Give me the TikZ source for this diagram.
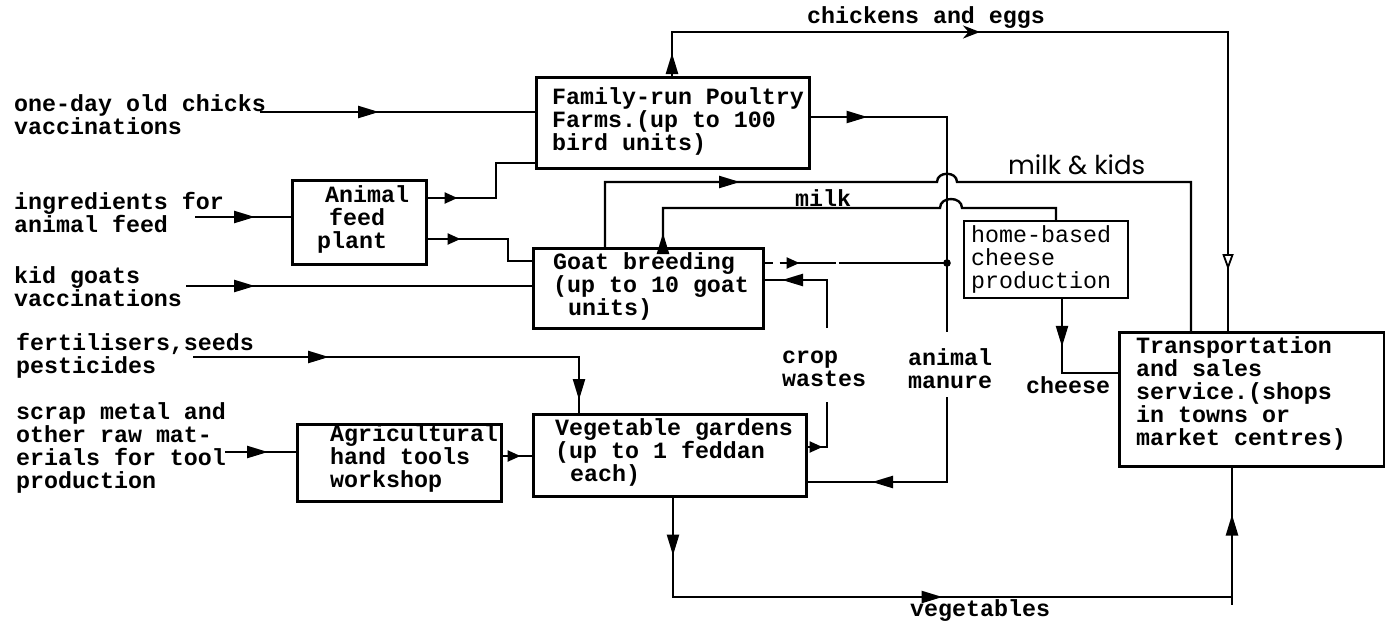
\documentclass[tikz,border=0pt]{standalone}
\usepackage{fontspec}
\usetikzlibrary{arrows.meta,decorations.markings}
\newfontfamily\tw{Liberation Mono}
\newfontfamily\hand{Poppins}
\begin{document}
\begin{tikzpicture}[x=1pt,y=-1pt,
  box/.style={draw,line width=2.5pt,inner sep=0pt,anchor=north west},
  wire/.style={line width=2.4pt},
  txt/.style={font=\tw\bfseries\fontsize{23.3}{23}\selectfont,align=left,inner sep=0pt,anchor=west},
  ltxt/.style={font=\tw\fontsize{23.3}{23}\selectfont,align=left,inner sep=0pt,anchor=west},
  ah/.style={postaction={decorate,decoration={markings,mark=at position #1 with {\arrow{Triangle[length=21pt,width=12pt]}}}}},
  ahs/.style={postaction={decorate,decoration={markings,mark=at position #1 with {\arrow{Triangle[length=13pt,width=11pt]}}}}},
  ahb/.style={postaction={decorate,decoration={markings,mark=at position #1 with {\arrow{Stealth[length=17pt,width=13pt]}}}}},
  aho/.style={postaction={decorate,decoration={markings,mark=at position #1 with {\arrow{Triangle[open,fill=white,line width=1.8pt,length=16pt,width=11pt]}}}}},
]
\fill[white] (0,0) rectangle (1385,625);
\useasboundingbox (0,0) rectangle (1385,625);

% boxes
\node[box,minimum width=134pt,minimum height=84pt] (feed) at (291,179) {};
\node[box,minimum width=273pt,minimum height=91pt] (poul) at (535,76) {};
\node[box,minimum width=230pt,minimum height=80pt] (goat) at (532,247) {};
\node[box,minimum width=204pt,minimum height=77pt] (agri) at (296,423) {};
\node[box,minimum width=273pt,minimum height=82pt] (veg) at (532,413) {};
\node[box,minimum width=164pt,minimum height=77pt,line width=1.8pt] (chz) at (963,220) {};
\node[box,minimum width=265pt,minimum height=134pt] (trans) at (1118,331) {};

% box texts
\node[txt] (feedt) at (317,219) {\hspace{8pt}Animal\\\hspace{12pt}feed\\plant};
\node[txt] (poult) at (552,121) {Family-run Poultry\\Farms.(up to 100\\bird units)};
\node[txt] (goatt) at (553,286) {Goat breeding\\(up to 10 goat\\\hspace{15pt}units)};
\node[txt] (agrit) at (330,458) {Agricultural\\hand tools\\workshop};
\node[txt] (vegt) at (555,452) {Vegetable gardens\\(up to 1 feddan\\\hspace{15pt}each)};
\node[ltxt] (chzt) at (971,259) {home-based\\cheese\\production};
\node[txt] (transt) at (1136,393) {Transportation\\and sales\\service.(shops\\in towns or\\market centres)};

% left labels
\node[txt] (l1) at (14,115) {one-day old chicks\\vaccinations};
\node[txt] (l2) at (14,212) {ingredients for\\animal feed};
\node[txt] (l3) at (14,287) {kid goats\\vaccinations};
\node[txt] (l4) at (16,356) {fertilisers,seeds\\pesticides};
\node[txt] (l5) at (16,448) {scrap metal and\\other raw mat-\\erials for tool\\production};

% other labels
\node[txt] (chk) at (807,18) {chickens and eggs};
\node[txt] (milkl) at (795,198) {milk};
\node[font=\hand\fontsize{26}{26}\selectfont,inner sep=0pt,anchor=west] (mk) at (1008,165) {milk \& kids};
\node[txt] (crop) at (782,369) {crop\\wastes};
\node[txt] (man) at (908,369) {animal\\manure};
\node[txt] (chs) at (1026,385) {cheese};
\node[txt] (vegl) at (910,611) {vegetables};

% inputs
\coordinate (s1) at (260,112);
\draw[wire,ah=119pt] (s1) -- (s1 -| poul.west);
\coordinate (s2) at (195,217);
\draw[wire,ah=60pt] (s2) -- (s2 -| feed.west);
\coordinate (s3) at (186,286);
\draw[wire,ah=69pt] (s3) -- (s3 -| goat.west);
\coordinate (s4) at (193,357);
\draw[wire,ah=136pt,ah=429pt] (s4) -- (579,357) -- (579,0 |- veg.north);
\coordinate (s5) at (225,452);
\draw[wire,ah=43pt] (s5) -- (s5 -| agri.west);

\draw[wire,ahs=18pt] (agri.east |- 0,456) -- (veg.west |- 0,456);
\draw[wire,ahs=30pt] (feed.east |- 0,198) -- (496,198) -- (496,163) -- (poul.west |- 0,163);
\draw[wire,ahs=33pt] (feed.east |- 0,239) -- (508,239) -- (508,261) -- (goat.west |- 0,261);

% manure
\coordinate (m1) at (947,332);
\coordinate (m2) at (947,397);
\coordinate (j1) at (947,263);
\draw[wire,ah=57pt] (poul.east |- 0,117) -- (947,117) -- (m1);
\draw[wire,ah=160pt] (m2) -- (947,482) -- (veg.east |- 0,482);
\fill (j1) circle[radius=3.8pt];
\draw[wire,dash pattern=on 8pt off 7pt on 56pt off 3pt on 120pt,ahs=35pt] (goat.east |- 0,263) -- (j1);

% crop wastes
\coordinate (c1) at (827,402);
\coordinate (c2) at (827,328);
\draw[wire,ahs=15pt] (veg.east |- 0,447) -- (827,447) -- (c1);
\draw[wire,ah=93pt] (c2) -- (827,280) -- (goat.east |- 0,280);

% milk & kids, milk
\draw[wire,ah=200pt] (goat.north -| 605,0) -- (605,182) -- (937,182) .. controls (937,171) and (957,171) .. (957,182) -- (1191,182) -- (trans.north -| 1191,0);
\draw[wire,ah=14pt] (goat.north -| 663,0) -- (663,208) -- (940,208) .. controls (940,196) and (962,196) .. (962,208) -- (1056,208) -- (chz.north -| 1056,0);

% chickens and eggs
\draw[wire,ah=23pt,ahb=352pt,aho=838pt] (poul.north -| 672,0) -- (672,32) -- (1228,32) -- (trans.north -| 1228,0);

% cheese
\draw[wire,ah=48pt] (chz.south -| 1062,0) -- (1062,373) -- (trans.west |- 0,373);

% vegetables
\coordinate (v1) at (1232,597);
\coordinate (v2) at (1232,605);
\draw[wire,ah=58pt,ah=369pt,ah=741pt] (veg.south -| 673,0) -- (673,597) -- (v1) -- (trans.south -| 1232,0);
\draw[wire] (v1) -- (v2);
\end{tikzpicture}
\end{document}
